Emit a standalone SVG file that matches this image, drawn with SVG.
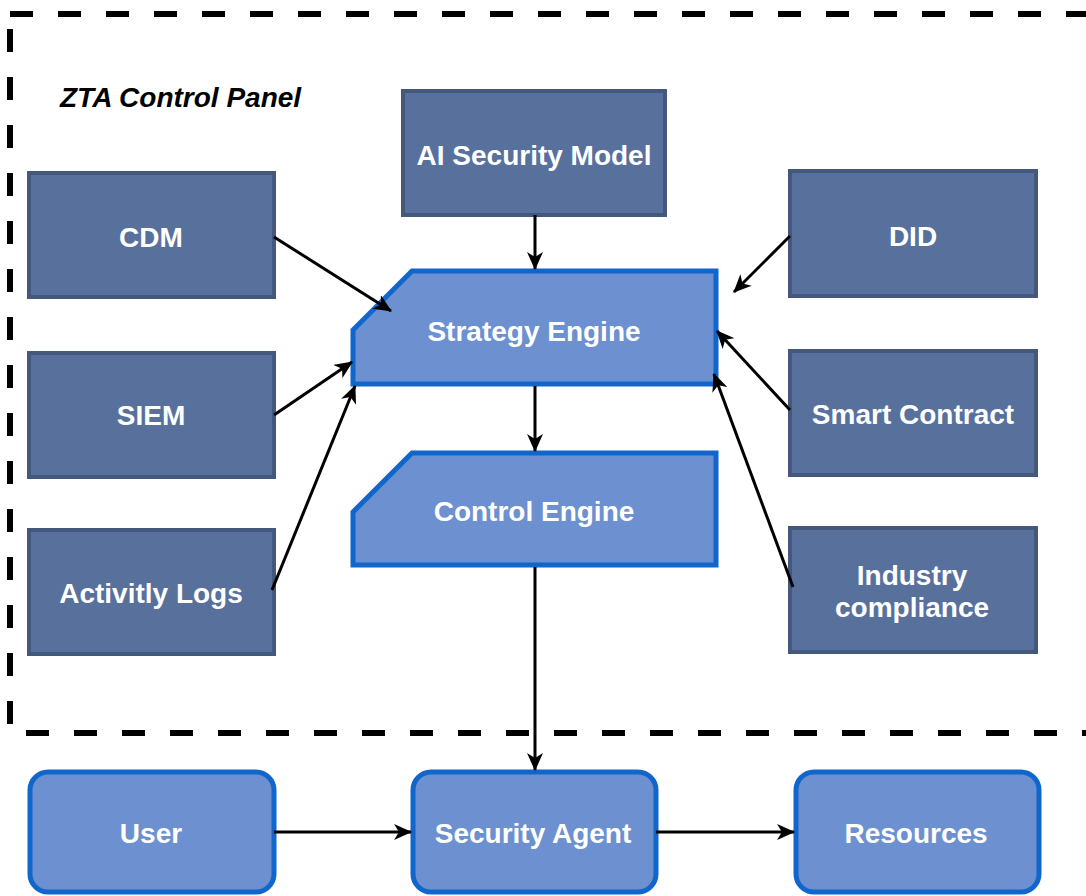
<svg xmlns="http://www.w3.org/2000/svg" width="1086" height="896" viewBox="0 0 1086 896">
<defs>
<style>
.dark{fill:#58709c;stroke:#44587e;stroke-width:4}
.light{fill:#6d90d0;stroke:#1166cc;stroke-width:5;stroke-linejoin:miter}
.t{font-family:"Liberation Sans",Arial,sans-serif;font-weight:bold;font-size:28px;fill:#ffffff;text-anchor:middle}
.c{stroke:#000;stroke-width:3;fill:none;marker-end:url(#ah)}
</style>
<marker id="ah" viewBox="0 0 18 16" refX="17" refY="8" markerWidth="18" markerHeight="16" markerUnits="userSpaceOnUse" orient="auto">
<path d="M0,0 L18,8 L0,16 L5,8 Z" fill="#000"/>
</marker>
</defs>
<rect width="1086" height="896" fill="#ffffff"/>
<rect id="panel" x="10" y="14" width="1100" height="719" fill="none" stroke="#000" stroke-width="6" stroke-dasharray="23 25"/>
<text x="60" y="107" font-family="'Liberation Sans',Arial,sans-serif" font-weight="bold" font-style="italic" font-size="28" fill="#000">ZTA Control Panel</text>

<g id="ai"><rect class="dark" x="403" y="91" width="262" height="124"/><text class="t" x="534" y="165">AI Security Model</text></g>
<g id="cdm"><rect class="dark" x="29" y="173" width="245" height="124"/><text class="t" x="151" y="247">CDM</text></g>
<g id="did"><rect class="dark" x="790" y="171" width="246" height="125"/><text class="t" x="913" y="246">DID</text></g>
<g id="siem"><rect class="dark" x="29" y="353" width="245" height="124"/><text class="t" x="151" y="425">SIEM</text></g>
<g id="smart"><rect class="dark" x="790" y="351" width="246" height="124"/><text class="t" x="913" y="424">Smart Contract</text></g>
<g id="logs"><rect class="dark" x="29" y="530" width="245" height="124"/><text class="t" x="151" y="603">Activitly Logs</text></g>
<g id="industry"><rect class="dark" x="790" y="528" width="246" height="124"/><text class="t" x="912" y="585">Industry</text><text class="t" x="912" y="617">compliance</text></g>

<g id="strategy"><path class="light" d="M412,271 L716,271 L716,384 L353,384 L353,330 Z"/><text class="t" x="534" y="341">Strategy Engine</text></g>
<g id="control"><path class="light" d="M412,453 L716,453 L716,565 L353,565 L353,512 Z"/><text class="t" x="534" y="521">Control Engine</text></g>

<g id="user"><rect class="light" x="30" y="772" width="244" height="120" rx="18"/><text class="t" x="151" y="843">User</text></g>
<g id="agent"><rect class="light" x="413" y="772" width="243" height="120" rx="18"/><text class="t" x="533" y="843">Security Agent</text></g>
<g id="resources"><rect class="light" x="796" y="772" width="243" height="120" rx="18"/><text class="t" x="916" y="843">Resources</text></g>

<g id="connectors">
<path class="c" d="M535,215 L535,269"/>
<path class="c" d="M274,237 L391,311"/>
<path class="c" d="M274,415 L352,362"/>
<path class="c" d="M272,590 L355,386"/>
<path class="c" d="M790,236 L734,292"/>
<path class="c" d="M790,410 L717,331"/>
<path class="c" d="M793,587 L714,374"/>
<path class="c" d="M535,386 L535,451"/>
<path class="c" d="M535,567 L535,770"/>
<path class="c" d="M274,832 L411,832"/>
<path class="c" d="M656,832 L794,832"/>
</g>
</svg>
